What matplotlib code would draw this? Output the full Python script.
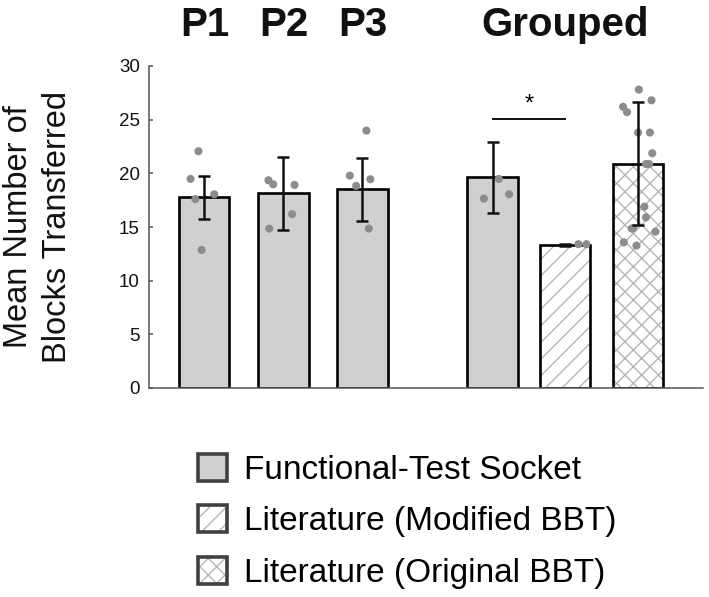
import matplotlib
matplotlib.use("Agg")
import matplotlib.pyplot as plt
from matplotlib.patches import Patch
from matplotlib.legend_handler import HandlerTuple
import matplotlib.transforms as mtransforms

plt.rcParams['font.family'] = ['Liberation Sans', 'DejaVu Sans']
plt.rcParams['hatch.linewidth'] = 1.0

# ---- data ----
categories = ['P1', 'P2', 'P3', 'Functional-Test Socket', 'Literature (Modified BBT)', 'Literature (Original BBT)']
means = [17.75, 18.15, 18.5, 19.65, 13.3, 20.9]
sds = [2.0, 3.4, 2.9, 3.3, 0.08, 5.7]

p1_vals = [22.06, 19.48, 17.6, 18.05, 12.86]
p2_vals = [19.35, 18.98, 18.92, 16.2, 14.85]
p3_vals = [23.98, 19.79, 19.45, 18.83, 14.85]
g1_vals = [19.48, 17.65, 18.05]
g2_vals = [13.4, 13.4]
g3_vals = [27.8, 26.8, 26.2, 25.7, 23.8, 23.8, 21.87, 20.87, 20.87, 16.9, 15.9,
           14.9, 14.85, 14.57, 13.57, 13.27]

# horizontal jitter of the dots
p1_jit = [-0.07, -0.17, -0.11, 0.13, -0.03]
p2_jit = [-0.19, -0.13, 0.14, 0.11, -0.18]
p3_jit = [0.05, -0.16, 0.10, -0.08, 0.08]
g1_jit = [0.08, -0.11, 0.21]
g2_jit = [0.17, 0.27]
g3_jit = [0.01, 0.17, -0.19, -0.14, 0.0, 0.15, 0.18, 0.10, 0.14, 0.08, 0.10,
          -0.06, -0.08, 0.22, -0.18, -0.02]

titles = ['P1', 'P2', 'P3', 'Grouped']
ylabel = 'Mean Number of\nBlocks Transferred'
yticks = [0, 5, 10, 15, 20, 25, 30]
legend_labels = ['Functional-Test Socket', 'Literature (Modified BBT)', 'Literature (Original BBT)']

# ---- layout ----
positions = [0, 1.006, 2.006, 3.652, 4.57, 5.494]
width = 0.635
fill = '#d0d0d0'
hatch_col = '#b5b5b5'
dot_col = '#8c8c8c'
spine_col = '#555555'

fig = plt.figure(figsize=(7.09, 5.97), dpi=100)
ax = fig.add_axes([149/709, 1-388/597, (703-149)/709, (388-66)/597])

faces = [fill, fill, fill, fill, 'white', 'white']
hatches = [None, None, None, None, '//', 'xx']
for x, m, fc, h in zip(positions, means, faces, hatches):
    if h:
        ax.bar(x, m, width, color=fc, edgecolor=hatch_col, hatch=h, linewidth=0, zorder=1)
        ax.bar(x, m, width, facecolor='none', edgecolor='black', linewidth=1.9, zorder=2)
    else:
        ax.bar(x, m, width, color=fc, edgecolor='black', linewidth=1.9, zorder=2)

all_vals = [p1_vals, p2_vals, p3_vals, g1_vals, g2_vals, g3_vals]
all_jit = [p1_jit, p2_jit, p3_jit, g1_jit, g2_jit, g3_jit]
for x, vals, jit in zip(positions, all_vals, all_jit):
    ax.scatter([x + j for j in jit], vals, s=34, color=dot_col, edgecolor='none', zorder=3)

ax.errorbar(positions, means, yerr=sds, fmt='none', ecolor='#111111', elinewidth=1.8,
            capsize=4.5, capthick=1.8, zorder=4)

# significance
ax.plot([positions[3], positions[4]], [25.05, 25.05], color='#111111', lw=1.4, zorder=4)
ax.text((positions[3] + positions[4]) / 2, 25.4, '*', ha='center', va='bottom', fontsize=17)

ax.set_xlim(-0.696, 6.316)
ax.set_ylim(0, 30)
ax.set_yticks(yticks)
ax.set_xticks([])
for s in ['top', 'right']:
    ax.spines[s].set_visible(False)
for s in ['left', 'bottom']:
    ax.spines[s].set_color(spine_col)
    ax.spines[s].set_linewidth(1.1)
ax.tick_params(axis='y', direction='in', length=3, width=1.1, color=spine_col,
               labelsize=13.5, pad=6.5, labelcolor='#111111')
ax.set_ylabel(ylabel, fontsize=23.5, linespacing=1.35, color='#111111')
ax.yaxis.set_label_coords(-0.137, 0.5)

# titles
trans = mtransforms.blended_transform_factory(ax.transData, ax.transAxes)
title_x = [positions[0] + 0.01, positions[1] + 0.01, positions[2] + 0.01, positions[4]]
for tx, t in zip(title_x, titles):
    ax.text(tx, 1.094, t, transform=trans, ha='center', va='baseline',
            fontsize=29, fontweight='bold', color='#111111')

# legend
edge_leg = '#404040'
h1 = Patch(facecolor=fill, edgecolor=edge_leg, linewidth=2.6)
h2 = (Patch(facecolor='white', edgecolor=hatch_col, hatch='//', linewidth=0),
      Patch(facecolor='none', edgecolor=edge_leg, linewidth=2.6))
h3 = (Patch(facecolor='white', edgecolor=hatch_col, hatch='xx', linewidth=0),
      Patch(facecolor='none', edgecolor=edge_leg, linewidth=2.6))
fig.legend([h1, h2, h3], legend_labels, loc='upper left',
           bbox_to_anchor=(198/709, 1-454/597), frameon=False,
           fontsize=24, handlelength=0.87, handleheight=0.87, handletextpad=0.5,
           labelspacing=0.58, borderpad=0, borderaxespad=0,
           handler_map={tuple: HandlerTuple(ndivide=1, pad=0)})

fig.savefig('out.png', dpi=100)
